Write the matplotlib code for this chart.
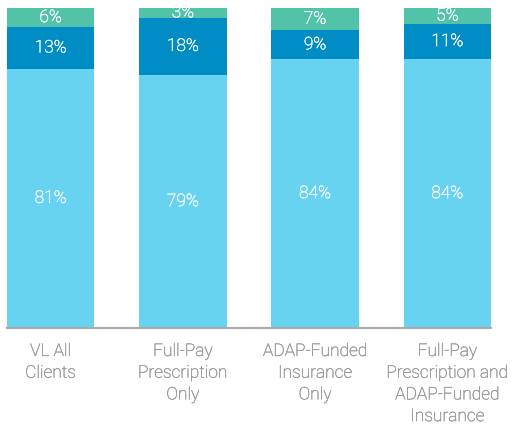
import matplotlib.pyplot as plt
import matplotlib.patheffects as pe
import numpy as np

plt.rcParams["font.family"] = ["Roboto", "DejaVu Sans"]

categories = [
    "VL All\nClients",
    "Full-Pay\nPrescription\nOnly",
    "ADAP-Funded\nInsurance\nOnly",
    "Full-Pay\nPrescription and\nADAP-Funded\nInsurance",
]
bottom_vals = [81, 79, 84, 84]
middle_vals = [13, 18, 9, 11]
top_vals = [6, 3, 7, 5]

colors = ["#67d3f1", "#008dc5", "#52c3a8"]

fig = plt.figure(figsize=(5.13, 4.27), dpi=100)
ax = fig.add_axes([7 / 513, 1 - 329 / 427, 484 / 513, 320 / 427])

x = np.arange(len(categories))
width = 0.66
base = np.zeros(len(categories))
for vals, color in zip([bottom_vals, middle_vals, top_vals], colors):
    vals = np.array(vals, dtype=float)
    ax.bar(x, vals, width, bottom=base, color=color, linewidth=0)
    for xi, b, v in zip(x, base, vals):
        ax.text(xi, b + v / 2, f"{v:.0f}%", ha="center", va="center",
                color="#eef7fb", fontsize=12.5, fontweight="light",
                path_effects=[pe.withStroke(linewidth=0.4, foreground="#eef7fb")])
    base += vals

ax.set_xlim(-width / 2, len(categories) - 1 + width / 2)
ax.set_ylim(0, 100)
ax.set_xticks(x)
labels = ax.set_xticklabels(categories, fontsize=12.5, color="#9a9a9a",
                            fontweight="light", linespacing=1.56, va="top")
for lab in labels:
    lab.set_path_effects([pe.withStroke(linewidth=0.3, foreground="#9a9a9a")])
ax.tick_params(axis="x", length=0, pad=11.5)
ax.set_yticks([])
for s in ["top", "right", "left"]:
    ax.spines[s].set_visible(False)
ax.spines["bottom"].set_color("#aaaaaa")
ax.spines["bottom"].set_linewidth(1.5)

fig.savefig("out.png", dpi=100)
